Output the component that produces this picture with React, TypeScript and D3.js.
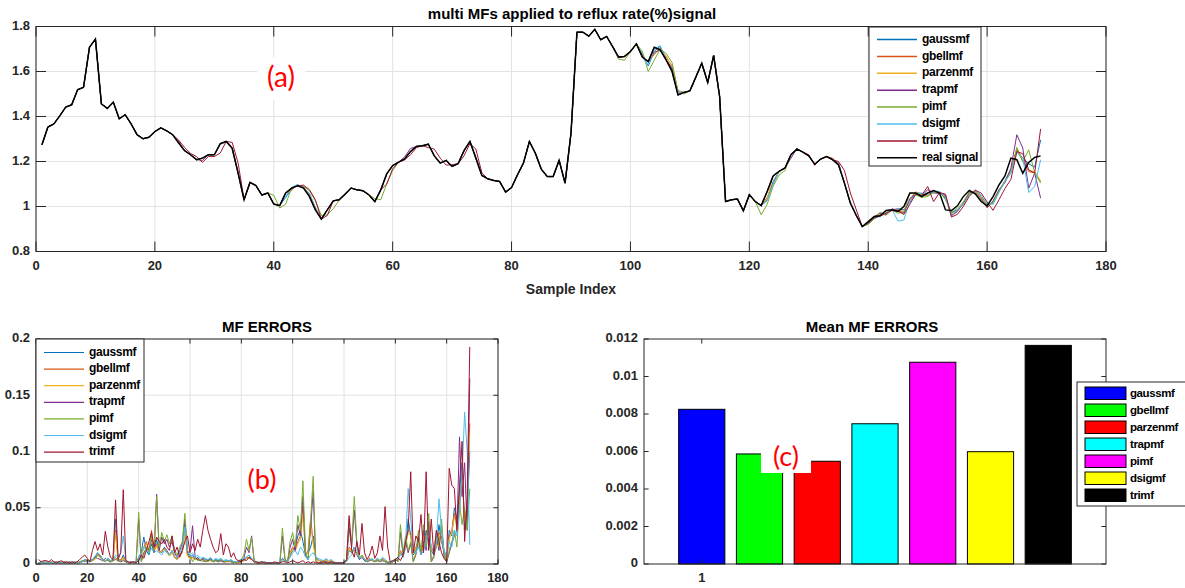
import React from 'react';
import * as d3 from 'd3';

// ---------------- DATA ----------------
const sampleIndex = d3.range(1, 170);

const realSignal = [
  1.274, 1.353, 1.367, 1.403, 1.442, 1.452, 1.519, 1.530, 1.708, 1.744,
  1.456, 1.436, 1.464, 1.390, 1.408, 1.367, 1.319, 1.301, 1.308, 1.333,
  1.350, 1.336, 1.319, 1.282, 1.248, 1.230, 1.208, 1.215, 1.230, 1.230,
  1.279, 1.289, 1.259, 1.148, 1.030, 1.107, 1.093, 1.051, 1.060, 1.011,
  1.004, 1.060, 1.082, 1.092, 1.082, 1.044, 0.985, 0.944, 0.985, 1.025,
  1.030, 1.055, 1.082, 1.074, 1.070, 1.052, 1.022, 1.074, 1.145, 1.182,
  1.197, 1.211, 1.244, 1.267, 1.270, 1.277, 1.225, 1.193, 1.205, 1.178,
  1.190, 1.248, 1.289, 1.215, 1.138, 1.123, 1.116, 1.111, 1.064, 1.084,
  1.141, 1.193, 1.289, 1.237, 1.166, 1.133, 1.133, 1.205, 1.104, 1.326,
  1.775, 1.775, 1.757, 1.788, 1.741, 1.756, 1.711, 1.664, 1.667, 1.689,
  1.723, 1.664, 1.644, 1.708, 1.696, 1.652, 1.600, 1.496, 1.507, 1.514,
  1.575, 1.637, 1.551, 1.671, 1.489, 1.022, 1.030, 1.033, 0.981, 1.052,
  1.022, 1.004, 1.067, 1.136, 1.156, 1.171, 1.230, 1.255, 1.242, 1.225,
  1.188, 1.211, 1.222, 1.208, 1.185, 1.104, 1.015, 0.960, 0.911, 0.933,
  0.956, 0.959, 0.982, 0.985, 0.978, 1.000, 1.060, 1.060, 1.044, 1.060,
  1.071, 1.060, 0.985, 0.982, 1.003, 1.044, 1.071, 1.056, 1.022, 1.003,
  1.044, 1.096, 1.136, 1.215, 1.208, 1.148, 1.196, 1.218, 1.225,
];

const mfNames = ['gaussmf', 'gbellmf', 'parzenmf', 'trapmf', 'pimf', 'dsigmf', 'trimf'];
const mfColors = ['#0072BD', '#D95319', '#EDB120', '#7E2F8E', '#77AC30', '#4DBEEE', '#A2142F'];

// MF outputs for samples 140..169 (where they clearly diverge)
const TAIL_START = 140;
const gaussTail = [0.925, 0.945, 0.960, 0.968, 0.985, 0.990, 0.985, 1.020, 1.062, 1.058, 1.050, 1.066, 1.065, 1.035, 0.972, 0.985, 1.010, 1.055, 1.070, 1.045, 1.010, 1.015, 1.070, 1.115, 1.165, 1.250, 1.215, 1.190, 1.175, 1.296];
const gbellTail = [0.928, 0.950, 0.962, 0.965, 0.988, 0.985, 0.975, 1.030, 1.065, 1.050, 1.048, 1.068, 1.062, 1.045, 0.960, 0.980, 1.012, 1.060, 1.068, 1.040, 0.995, 1.020, 1.072, 1.110, 1.160, 1.255, 1.200, 1.155, 1.150, 1.110];
const parzenTail = [0.930, 0.948, 0.965, 0.970, 0.985, 0.982, 0.978, 1.028, 1.063, 1.052, 1.050, 1.066, 1.064, 1.040, 0.965, 0.982, 1.010, 1.058, 1.066, 1.042, 1.000, 1.018, 1.070, 1.112, 1.158, 1.245, 1.205, 1.160, 1.155, 1.115];
const trapTail = [0.925, 0.955, 0.970, 0.962, 0.990, 0.980, 0.970, 1.035, 1.058, 1.046, 1.075, 1.060, 1.058, 1.050, 0.958, 0.978, 1.015, 1.062, 1.062, 1.035, 0.995, 1.025, 1.075, 1.105, 1.170, 1.319, 1.260, 1.081, 1.148, 1.037];
const piTail = [0.920, 0.945, 0.975, 0.962, 0.985, 0.970, 0.975, 1.060, 1.052, 1.040, 1.045, 1.062, 1.066, 1.030, 0.975, 0.992, 1.020, 1.065, 1.060, 1.030, 1.000, 1.020, 1.068, 1.110, 1.150, 1.263, 1.200, 1.252, 1.150, 1.104];
const dsigTail = [0.930, 0.952, 0.955, 0.975, 0.988, 0.935, 0.940, 1.025, 1.050, 1.060, 1.052, 1.068, 1.068, 1.040, 0.958, 0.985, 1.010, 1.050, 1.075, 1.050, 1.012, 1.010, 1.062, 1.110, 1.150, 1.240, 1.215, 1.062, 1.089, 1.208];
const trimTail = [0.928, 0.950, 0.958, 0.970, 0.982, 0.980, 0.965, 1.010, 1.055, 1.050, 1.089, 1.022, 1.062, 1.055, 0.953, 0.965, 1.000, 1.045, 1.072, 1.060, 1.020, 0.983, 1.030, 1.080, 1.120, 1.244, 1.235, 1.163, 1.148, 1.345];

// earlier samples where an MF output visibly departs from the real signal [sample, value]
const gaussDev: [number, number][] = [[42, 1.040], [43, 1.078], [44, 1.095], [46, 1.052], [47, 0.990], [102, 1.676], [103, 1.625], [104, 1.690], [105, 1.712], [107, 1.610], [108, 1.505], [123, 1.030], [124, 1.110]];
const gbellDev: [number, number][] = [[43, 1.072], [44, 1.098], [46, 1.058], [47, 0.995], [104, 1.675], [105, 1.705], [106, 1.665], [107, 1.625], [108, 1.515], [123, 1.040], [124, 1.100], [134, 1.215]];
const parzenDev: [number, number][] = [[43, 1.075], [44, 1.096], [47, 0.992], [104, 1.680], [106, 1.670], [107, 1.620], [108, 1.510], [123, 1.035]];
const trapDev: [number, number][] = [[24, 1.290], [28, 1.205], [45, 1.090], [62, 1.220], [63, 1.258], [104, 1.685], [107, 1.615], [127, 1.215], [128, 1.258], [135, 1.195]];
const piDev: [number, number][] = [[40, 1.050], [41, 0.993], [42, 1.010], [45, 1.090], [46, 1.070], [47, 1.025], [48, 0.960], [49, 0.963], [50, 0.990], [51, 1.028], [57, 1.035], [58, 1.030], [59, 1.100], [60, 1.160], [98, 1.655], [99, 1.650], [102, 1.690], [103, 1.600], [104, 1.650], [105, 1.700], [106, 1.680], [107, 1.640], [108, 1.511], [109, 1.500], [122, 0.963], [123, 1.010], [124, 1.090], [125, 1.140], [126, 1.160]];
const dsigDev: [number, number][] = [[42, 1.045], [43, 1.085], [44, 1.098], [46, 1.056], [47, 0.995], [103, 1.630], [104, 1.700], [105, 1.715], [108, 1.510], [123, 1.025], [124, 1.100]];
const trimDev: [number, number][] = [[24, 1.295], [25, 1.262], [26, 1.236], [27, 1.222], [28, 1.196], [29, 1.222], [30, 1.222], [31, 1.238], [33, 1.285], [34, 1.193], [45, 1.095], [46, 1.075], [47, 1.030], [49, 0.960], [59, 1.100], [60, 1.168], [62, 1.207], [63, 1.230], [64, 1.262], [66, 1.262], [67, 1.255], [68, 1.215], [69, 1.184], [70, 1.186], [72, 1.225], [73, 1.280], [74, 1.255], [75, 1.150], [128, 1.256], [130, 1.230], [131, 1.183], [135, 1.200], [136, 1.160], [137, 1.060], [138, 0.985]];

// MF errors per sample (1..169)
const gaussErr = [
  .001, .001, .001, .002, .001, .001, .001, .001, .002, .001,
  .001, .001, .002, .001, .001, .001, .002, .002, .004, .003,
  .002, .004, .006, .010, .008, .004, .003, .005, .003, .004,
  .040, .004, .003, .008, .002, .001, .001, .002, .001, .006,
  .010, .024, .012, .008, .018, .010, .022, .012, .010, .015,
  .012, .008, .010, .006, .004, .008, .012, .036, .010, .006,
  .008, .004, .006, .003, .005, .004, .003, .005, .002, .004,
  .003, .004, .002, .003, .002, .003, .002, .001, .002, .003,
  .004, .006, .008, .004, .002, .001, .001, .001, .002, .001,
  .001, .001, .001, .001, .001, .005, .003, .002, .008, .012,
  .015, .025, .030, .020, .008, .010, .015, .025, .006, .004,
  .002, .003, .002, .001, .002, .001, .001, .001, .001, .001,
  .003, .012, .010, .015, .008, .004, .006, .003, .002, .004,
  .004, .002, .005, .003, .004, .003, .002, .001, .002, .003,
  .004, .010, .006, .015, .040, .025, .008, .012, .018, .010,
  .015, .030, .020, .012, .008, .015, .035, .020, .010, .004,
  .030, .025, .050, .040, .065, .090, .030, .045, .100,
];
const gbellErr = [
  .001, .002, .001, .001, .001, .002, .001, .002, .001, .001,
  .002, .001, .001, .001, .001, .002, .001, .003, .002, .003,
  .002, .003, .005, .009, .007, .004, .003, .004, .002, .003,
  .030, .003, .004, .006, .002, .001, .002, .001, .001, .004,
  .008, .015, .020, .012, .030, .012, .018, .010, .012, .014,
  .010, .008, .012, .006, .005, .008, .010, .030, .008, .005,
  .006, .004, .005, .003, .004, .003, .004, .003, .002, .003,
  .002, .003, .002, .002, .003, .002, .001, .002, .001, .002,
  .003, .005, .006, .004, .002, .001, .001, .002, .001, .001,
  .001, .001, .001, .001, .001, .004, .003, .002, .010, .015,
  .012, .020, .025, .051, .008, .012, .040, .020, .005, .003,
  .003, .002, .004, .002, .003, .002, .001, .001, .001, .001,
  .003, .015, .012, .012, .010, .005, .008, .004, .003, .005,
  .003, .002, .004, .003, .005, .003, .002, .001, .002, .003,
  .005, .012, .008, .018, .030, .028, .010, .015, .020, .012,
  .018, .025, .030, .015, .010, .018, .028, .024, .012, .005,
  .025, .030, .045, .035, .055, .080, .040, .050, .125,
];
const parzenErr = [
  .001, .001, .001, .002, .001, .001, .002, .001, .001, .001,
  .001, .002, .001, .001, .001, .001, .002, .002, .003, .002,
  .002, .003, .004, .008, .006, .004, .003, .004, .003, .003,
  .028, .003, .003, .006, .002, .001, .001, .002, .001, .004,
  .007, .014, .018, .011, .026, .011, .016, .010, .011, .013,
  .010, .007, .010, .006, .004, .007, .010, .028, .007, .005,
  .005, .004, .004, .003, .004, .003, .003, .003, .002, .003,
  .002, .003, .002, .002, .002, .002, .001, .002, .001, .002,
  .003, .005, .005, .004, .002, .001, .001, .001, .001, .001,
  .001, .001, .001, .001, .001, .004, .002, .002, .009, .013,
  .011, .018, .022, .045, .008, .010, .035, .018, .005, .003,
  .003, .002, .003, .002, .003, .002, .001, .001, .001, .001,
  .003, .014, .011, .011, .009, .005, .007, .004, .003, .004,
  .003, .002, .004, .003, .004, .003, .002, .001, .002, .003,
  .005, .011, .007, .016, .028, .025, .009, .014, .018, .011,
  .016, .022, .028, .014, .009, .016, .025, .022, .011, .005,
  .022, .028, .042, .032, .050, .075, .038, .046, .118,
];
const trapErr = [
  .001, .002, .001, .001, .002, .001, .001, .002, .001, .001,
  .002, .001, .001, .001, .002, .001, .001, .002, .003, .002,
  .003, .004, .006, .005, .004, .003, .005, .003, .002, .003,
  .004, .003, .002, .003, .002, .001, .002, .001, .002, .040,
  .003, .010, .014, .012, .022, .010, .062, .012, .024, .018,
  .022, .015, .020, .010, .006, .012, .018, .040, .010, .012,
  .034, .006, .004, .003, .004, .002, .003, .004, .002, .003,
  .002, .003, .002, .002, .003, .002, .001, .002, .002, .003,
  .005, .015, .010, .025, .003, .001, .001, .002, .001, .001,
  .001, .001, .001, .001, .001, .025, .004, .002, .015, .022,
  .012, .035, .025, .060, .008, .004, .032, .065, .003, .001,
  .001, .001, .002, .001, .001, .001, .001, .001, .001, .001,
  .003, .032, .015, .048, .018, .004, .006, .003, .002, .003,
  .004, .002, .003, .002, .003, .002, .001, .001, .002, .004,
  .002, .028, .008, .020, .010, .018, .002, .008, .025, .008,
  .030, .012, .038, .002, .006, .025, .012, .034, .006, .002,
  .010, .018, .025, .030, .113, .060, .090, .030, .165,
];
const piErr = [
  .001, .001, .002, .001, .001, .002, .001, .001, .001, .002,
  .001, .001, .001, .002, .001, .001, .002, .003, .002, .004,
  .002, .003, .005, .008, .006, .003, .002, .004, .002, .003,
  .006, .002, .003, .004, .002, .001, .001, .002, .001, .046,
  .002, .008, .015, .010, .025, .012, .060, .015, .028, .020,
  .026, .018, .025, .012, .008, .015, .020, .045, .012, .008,
  .002, .005, .003, .004, .002, .003, .002, .004, .002, .003,
  .002, .004, .003, .002, .003, .002, .001, .002, .003, .004,
  .008, .022, .012, .024, .002, .001, .002, .001, .001, .001,
  .001, .001, .001, .001, .001, .032, .005, .002, .020, .028,
  .015, .043, .030, .074, .010, .004, .040, .078, .002, .001,
  .001, .001, .001, .001, .001, .001, .001, .001, .001, .001,
  .004, .040, .018, .060, .020, .005, .008, .004, .002, .003,
  .005, .002, .003, .002, .004, .002, .001, .001, .002, .005,
  .002, .035, .010, .025, .012, .020, .002, .010, .030, .010,
  .035, .015, .045, .002, .008, .030, .015, .040, .008, .002,
  .012, .020, .030, .015, .055, .035, .050, .030, .067,
];
const dsigErr = [
  .001, .001, .002, .001, .001, .001, .001, .002, .001, .001,
  .001, .001, .001, .001, .002, .001, .001, .002, .003, .002,
  .002, .004, .007, .010, .008, .004, .003, .005, .003, .004,
  .008, .006, .010, .025, .003, .002, .001, .002, .001, .005,
  .010, .015, .012, .010, .014, .010, .012, .010, .008, .012,
  .010, .008, .012, .008, .006, .010, .015, .033, .012, .008,
  .010, .006, .008, .005, .006, .005, .004, .006, .003, .005,
  .004, .005, .003, .004, .003, .004, .002, .002, .003, .004,
  .005, .006, .008, .005, .003, .002, .001, .002, .001, .001,
  .001, .001, .001, .001, .001, .004, .003, .002, .006, .010,
  .012, .008, .015, .012, .006, .004, .008, .010, .006, .005,
  .004, .003, .005, .003, .004, .002, .001, .001, .001, .002,
  .002, .006, .008, .015, .012, .005, .006, .004, .003, .004,
  .004, .003, .005, .003, .006, .004, .002, .002, .003, .004,
  .005, .008, .010, .020, .067, .040, .012, .010, .015, .008,
  .012, .020, .028, .015, .010, .020, .058, .030, .012, .006,
  .020, .015, .030, .025, .045, .080, .135, .100, .017,
];
const trimErr = [
  .004, .002, .003, .003, .002, .004, .002, .001, .002, .003,
  .001, .002, .001, .002, .001, .002, .004, .006, .008, .005,
  .002, .012, .020, .012, .018, .008, .029, .015, .006, .004,
  .057, .004, .010, .066, .003, .002, .001, .002, .001, .003,
  .008, .005, .012, .020, .028, .015, .024, .020, .018, .022,
  .015, .012, .025, .010, .015, .006, .012, .020, .025, .010,
  .018, .012, .022, .015, .030, .043, .030, .022, .015, .010,
  .012, .027, .008, .018, .015, .006, .010, .004, .003, .002,
  .004, .003, .006, .004, .002, .002, .001, .002, .001, .001,
  .001, .001, .002, .001, .001, .002, .002, .001, .002, .003,
  .002, .001, .002, .003, .001, .002, .001, .002, .001, .001,
  .001, .002, .001, .001, .002, .001, .001, .001, .001, .001,
  .004, .043, .012, .006, .020, .008, .036, .010, .004, .008,
  .016, .005, .010, .025, .012, .051, .015, .002, .003, .004,
  .006, .003, .008, .020, .030, .082, .010, .025, .020, .044,
  .010, .082, .012, .040, .008, .030, .020, .010, .005, .002,
  .085, .070, .067, .030, .070, .109, .020, .060, .193,
];

const barCategory = [1];
const meanErrors = [0.00825, 0.00587, 0.00548, 0.00748, 0.01076, 0.00599, 0.01166];
const barColors = ['#0000FF', '#00FF00', '#FF0000', '#00FFFF', '#FF00FF', '#FFFF00', '#000000'];

const topXTicks = [0, 20, 40, 60, 80, 100, 120, 140, 160, 180];
const topYTicks = [0.8, 1, 1.2, 1.4, 1.6, 1.8];
const errXTicks = [0, 20, 40, 60, 80, 100, 120, 140, 160, 180];
const errYTicks = [0, 0.05, 0.1, 0.15, 0.2];
const meanYTicks = [0, 0.002, 0.004, 0.006, 0.008, 0.01, 0.012];

// -------------- BUILD SERIES --------------
const tails = [gaussTail, gbellTail, parzenTail, trapTail, piTail, dsigTail, trimTail];
const devs = [gaussDev, gbellDev, parzenDev, trapDev, piDev, dsigDev, trimDev];
const mfSeries = tails.map((tail, k) =>
  realSignal.map((v, i) => {
    const idx = sampleIndex[i];
    if (idx >= TAIL_START) return tail[idx - TAIL_START];
    const d = devs[k].find((p) => p[0] === idx);
    return d ? d[1] : v;
  })
);
const errSeries = [gaussErr, gbellErr, parzenErr, trapErr, piErr, dsigErr, trimErr];

// -------------- STYLE --------------
const FONT = '"Liberation Sans", Arial, Helvetica, sans-serif';
const NOTE_FONT = "Lato, 'Open Sans', sans-serif";
const AX = '#262626';
const GRID = '#e2e2e2';

type Lin = d3.ScaleLinear<number, number>;

function Frame(props: {
  x: Lin; y: Lin; xTicks: number[]; yTicks: number[];
  xFmt: (v: number) => string; yFmt: (v: number) => string;
  grid: boolean; tl: number; part: 'grid' | 'axes';
}) {
  const { x, y, xTicks, yTicks, xFmt, yFmt, grid, tl, part } = props;
  const [l, r] = x.range();
  const [b, t] = y.range();
  if (part === 'grid') {
    if (!grid) return null;
    return (
      <g>
        {xTicks.map((v) => (
          <line key={'gx' + v} x1={x(v)} x2={x(v)} y1={t} y2={b} stroke={GRID} strokeWidth={1} />
        ))}
        {yTicks.map((v) => (
          <line key={'gy' + v} x1={l} x2={r} y1={y(v)} y2={y(v)} stroke={GRID} strokeWidth={1} />
        ))}
      </g>
    );
  }
  return (
    <g>
      <rect x={l} y={t} width={r - l} height={b - t} fill="none" stroke={AX} strokeWidth={1} />
      {xTicks.map((v) => (
        <g key={'tx' + v}>
          <line x1={x(v)} x2={x(v)} y1={b} y2={b - tl} stroke={AX} />
          <line x1={x(v)} x2={x(v)} y1={t} y2={t + tl} stroke={AX} />
          <text x={x(v)} y={b + 15} textAnchor="middle" dominantBaseline="middle"
            fontFamily={FONT} fontSize={13} fontWeight="bold" fill={AX}>{xFmt(v)}</text>
        </g>
      ))}
      {yTicks.map((v) => (
        <g key={'ty' + v}>
          <line x1={l} x2={l + tl} y1={y(v)} y2={y(v)} stroke={AX} />
          <line x1={r} x2={r - tl} y1={y(v)} y2={y(v)} stroke={AX} />
          <text x={l - 6} y={y(v)} textAnchor="end" dominantBaseline="middle"
            fontFamily={FONT} fontSize={13} fontWeight="bold" fill={AX}>{yFmt(v)}</text>
        </g>
      ))}
    </g>
  );
}

function LineLegend(props: { x: number; y: number; w: number; h: number; names: string[]; colors: string[]; rowY0: number; step: number; lineW: number }) {
  const { x, y, w, h, names, colors, rowY0, step, lineW } = props;
  return (
    <g>
      <rect x={x} y={y} width={w} height={h} fill="#fff" stroke={AX} strokeWidth={1} />
      {names.map((n, i) => (
        <g key={n}>
          <line x1={x + 8} x2={x + 48} y1={rowY0 + i * step} y2={rowY0 + i * step} stroke={colors[i]} strokeWidth={lineW} />
          <text x={x + 53} y={rowY0 + i * step} dominantBaseline="middle" fontFamily={FONT}
            fontSize={12} letterSpacing={-0.3} fontWeight="bold" fill="#000">{n}</text>
        </g>
      ))}
    </g>
  );
}

export default function App() {
  // scales
  const topX = d3.scaleLinear().domain([0, 180]).range([36, 1106]);
  const topY = d3.scaleLinear().domain([0.8, 1.8]).range([251.5, 26.5]);
  const errX = d3.scaleLinear().domain([0, 180]).range([36, 498]);
  const errY = d3.scaleLinear().domain([0, 0.2]).range([564, 339]);
  const barX = d3.scaleLinear().domain([0, 8]).range([644, 1106]);
  const barY = d3.scaleLinear().domain([0, 0.012]).range([564, 339]);

  const topLine = d3.line<number>().x((_, i) => topX(sampleIndex[i])).y((d) => topY(d));
  const errLine = d3.line<number>().x((_, i) => errX(sampleIndex[i])).y((d) => errY(d));

  const fmtTopY = (v: number) => (v === 1 ? '1' : d3.format('.1f')(v));
  const fmtInt = (v: number) => String(v);
  const fmtErrY = (v: number) => String(+v.toFixed(2));
  const fmtMean = (v: number) => String(+v.toFixed(3));

  const barW = 0.8;

  return (
    <svg width={1185} height={588} style={{ position: 'absolute', left: 0, top: 0, background: '#fff' }}>
      <rect x={0} y={0} width={1185} height={588} fill="#fff" />

      {/* ---------------- (a) top chart ---------------- */}
      <Frame x={topX} y={topY} xTicks={topXTicks} yTicks={topYTicks} xFmt={fmtInt} yFmt={fmtTopY} grid tl={10} part="grid" />
      <rect x={257} y={57} width={48} height={43} fill="#fff" />
      <text x={281} y={80} textAnchor="middle" dominantBaseline="middle" fontFamily={NOTE_FONT} fontSize={28} fill="#FF0000">(a)</text>
      {mfSeries.map((s, k) => (
        <path key={mfNames[k]} d={topLine(s) || ''} fill="none" stroke={mfColors[k]} strokeWidth={1} />
      ))}
      <path d={topLine(realSignal) || ''} fill="none" stroke="#000" strokeWidth={1.5} />
      <Frame x={topX} y={topY} xTicks={topXTicks} yTicks={topYTicks} xFmt={fmtInt} yFmt={fmtTopY} grid tl={10} part="axes" />
      <text x={572} y={15} textAnchor="middle" dominantBaseline="middle" fontFamily={FONT} fontSize={15} fontWeight="bold" fill="#000">
        multi MFs applied to reflux rate(%)signal
      </text>
      <text x={571} y={290} textAnchor="middle" dominantBaseline="middle" fontFamily={FONT} fontSize={14} fontWeight="bold" fill={AX}>
        Sample Index
      </text>
      <LineLegend x={869} y={27} w={112} h={139} names={[...mfNames, 'real signal']} colors={[...mfColors, '#000']}
        rowY0={39.5} step={16.9} lineW={1.5} />

      {/* ---------------- (b) MF errors ---------------- */}
      <Frame x={errX} y={errY} xTicks={errXTicks} yTicks={errYTicks} xFmt={fmtInt} yFmt={fmtErrY} grid tl={4.6} part="grid" />
      {errSeries.map((s, k) => (
        <path key={'e' + mfNames[k]} d={errLine(s) || ''} fill="none" stroke={mfColors[k]} strokeWidth={1} />
      ))}
      <Frame x={errX} y={errY} xTicks={errXTicks} yTicks={errYTicks} xFmt={fmtInt} yFmt={fmtErrY} grid tl={4.6} part="axes" />
      <text x={267} y={328} textAnchor="middle" dominantBaseline="middle" fontFamily={FONT} fontSize={15} fontWeight="bold" fill="#000">
        MF ERRORS
      </text>
      <LineLegend x={36} y={339} w={108} h={123} names={mfNames} colors={mfColors} rowY0={352.5} step={16.6} lineW={1.2} />
      <text x={262} y={482} textAnchor="middle" dominantBaseline="middle" fontFamily={NOTE_FONT} fontSize={27} fill="#FF0000">(b)</text>

      {/* ---------------- (c) mean MF errors ---------------- */}
      {meanErrors.map((v, i) => {
        const cx = barCategory[0] + i;
        return (
          <rect key={'bar' + i} x={barX(cx - barW / 2)} y={barY(v)} width={barX(cx + barW / 2) - barX(cx - barW / 2)}
            height={barY(0) - barY(v)} fill={barColors[i]} stroke="#000" strokeWidth={1} />
        );
      })}
      <Frame x={barX} y={barY} xTicks={barCategory} yTicks={meanYTicks} xFmt={fmtInt} yFmt={fmtMean} grid={false} tl={4.6} part="axes" />
      <text x={872} y={328} textAnchor="middle" dominantBaseline="middle" fontFamily={FONT} fontSize={15} fontWeight="bold" fill="#000">
        Mean MF ERRORS
      </text>
      <rect x={761} y={447} width={50} height={26} fill="#fff" />
      <text x={786} y={459} textAnchor="middle" dominantBaseline="middle" fontFamily={NOTE_FONT} fontSize={27} fill="#FF0000">(c)</text>
      <g>
        <rect x={1077} y={382} width={120} height={124} fill="#fff" stroke={AX} strokeWidth={1} />
        {mfNames.map((n, i) => (
          <g key={'bl' + n}>
            <rect x={1085} y={387 + i * 17} width={41} height={12.5} fill={barColors[i]} stroke="#000" strokeWidth={1} />
            <text x={1130} y={393.5 + i * 17} dominantBaseline="middle" fontFamily={FONT} fontSize={11.5}
              letterSpacing={-0.4} fontWeight="bold" fill="#000">{n}</text>
          </g>
        ))}
      </g>
    </svg>
  );
}
